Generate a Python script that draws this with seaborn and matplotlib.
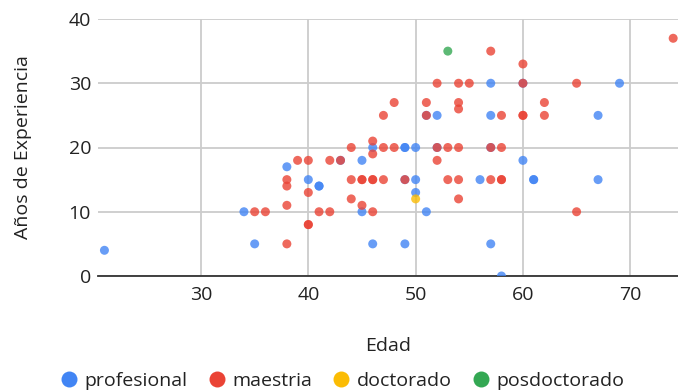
import matplotlib
matplotlib.use("Agg")
import matplotlib.pyplot as plt
import seaborn as sns
import pandas as pd
from matplotlib.lines import Line2D

# --- data ---
categories = ["profesional", "maestria", "doctorado", "posdoctorado"]
colors = ["#4285F4", "#EA4335", "#FBBC04", "#34A853"]

prof_edad = [21, 34, 35, 38, 40, 41, 41, 45, 45, 46, 46, 49, 49, 50, 50, 50, 49, 51, 51, 52,
             56, 57, 57, 57, 58, 60, 60, 61, 61, 67, 67, 69, 49, 57, 52, 43]
prof_exp = [4, 10, 5, 17, 15, 14, 14, 18, 10, 20, 5, 20, 20, 20, 15, 13, 5, 10, 25, 25,
            15, 30, 25, 5, 0, 30, 18, 15, 15, 25, 15, 30, 15, 20, 20, 18]

maes_edad = [35, 36, 38, 38, 38, 38, 39, 40, 40, 40, 40, 41, 42, 42, 43, 44, 44, 44, 45, 45,
             45, 46, 46, 46, 46, 46, 47, 47, 47, 48, 48, 49, 51, 51, 52, 52, 52, 53, 53, 54,
             54, 54, 54, 54, 54, 55, 57, 57, 57, 58, 58, 58, 58, 60, 60, 60, 60, 62, 62, 65,
             65, 74]
maes_exp = [10, 10, 5, 11, 14, 15, 18, 18, 13, 8, 8, 10, 10, 18, 18, 20, 15, 12, 15, 15,
            11, 21, 19, 15, 15, 10, 25, 20, 15, 27, 20, 15, 27, 25, 30, 20, 18, 20, 15, 30,
            27, 26, 20, 15, 12, 30, 35, 20, 15, 25, 20, 15, 15, 33, 30, 25, 25, 27, 25, 30,
            10, 37]

doc_edad = [50]
doc_exp = [12]
pos_edad = [53]
pos_exp = [35]

x_ticks = [30, 40, 50, 60, 70]
y_ticks = [0, 10, 20, 30, 40]

df = pd.concat([
    pd.DataFrame({"Edad": prof_edad, "Exp": prof_exp, "Nivel": "profesional"}),
    pd.DataFrame({"Edad": maes_edad, "Exp": maes_exp, "Nivel": "maestria"}),
    pd.DataFrame({"Edad": doc_edad, "Exp": doc_exp, "Nivel": "doctorado"}),
    pd.DataFrame({"Edad": pos_edad, "Exp": pos_exp, "Nivel": "posdoctorado"}),
], ignore_index=True)

sns.set_theme(style="white")
plt.rcParams["font.family"] = ["Open Sans", "DejaVu Sans"]

FS = 14
TXT = "#222222"

fig = plt.figure(figsize=(6.78, 3.92), dpi=100)
ax = fig.add_axes([98 / 678, 1 - 276 / 392, 1 - 98 / 678, (276 - 19) / 392])

sns.scatterplot(data=df, x="Edad", y="Exp", hue="Nivel", hue_order=categories,
                palette=colors, s=42, alpha=0.8, linewidth=0, legend=False, ax=ax,
                zorder=3)

ax.set_xlim(20.4, 74.45)
ax.set_ylim(0, 40)
ax.set_xticks(x_ticks)
ax.set_yticks(y_ticks)
ax.grid(True, color="#cccccc", linewidth=1.3, zorder=0)
ax.set_axisbelow(True)
for s in ["top", "right", "left"]:
    ax.spines[s].set_visible(False)
ax.spines["bottom"].set_color("#333333")
ax.spines["bottom"].set_linewidth(1.3)
ax.spines["bottom"].set_zorder(2)
ax.tick_params(axis="both", length=0, labelsize=FS, colors=TXT)
ax.tick_params(axis="x", pad=7)
ax.tick_params(axis="y", pad=5)
ax.set_xlabel("Edad", fontsize=FS, color=TXT, labelpad=24)
ax.set_ylabel("Años de Experiencia", fontsize=FS, color=TXT, labelpad=26)

handles = [Line2D([0], [0], marker="o", linestyle="", markersize=11.5,
                  markerfacecolor=c, markeredgewidth=0) for c in colors]
fig.legend(handles, categories, loc="center", bbox_to_anchor=(0.506, 1 - 381 / 392),
           ncol=4, frameon=False, fontsize=FS, handletextpad=0.4,
           columnspacing=1.1, handlelength=0.8, labelcolor=TXT)

fig.savefig("out.png", dpi=100)
